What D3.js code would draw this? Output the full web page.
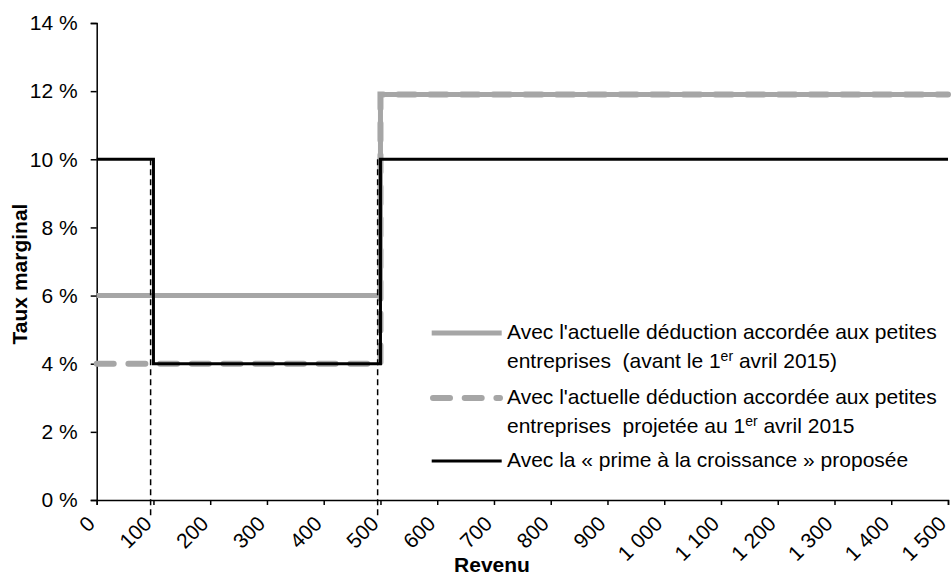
<!DOCTYPE html>
<html>
<head>
<meta charset="utf-8">
<script src="https://cdn.jsdelivr.net/npm/d3@7"></script>
<style>
  html, body { margin: 0; padding: 0; background: #fff; }
  svg text { font-family: "Liberation Sans", Arial, sans-serif; fill: #000; }
</style>
</head>
<body>
<svg id="chart" width="951" height="575"></svg>
<script>
// ---- Data ----
const revenu = [0, 100, 500, 1500];
const tauxActuel = [6, 6, 11.9, 11.9];
const tauxProjete = [4, 4, 11.9, 11.9];
const tauxPrime = [10, 4, 10, 10];
const seuils = [95, 495];
const seuilHaut = 10;
const seuilBas = -0.45;
const xTicks = [0, 100, 200, 300, 400, 500, 600, 700, 800, 900, 1000, 1100, 1200, 1300, 1400, 1500];
const yTicks = [0, 2, 4, 6, 8, 10, 12, 14];
const legendLabels = [
  ["Avec l'actuelle déduction accordée aux petites", "entreprises  (avant le 1|er| avril 2015)"],
  ["Avec l'actuelle déduction accordée aux petites", "entreprises  projetée au 1|er| avril 2015"],
  ["Avec la « prime à la croissance » proposée"]
];
const xTitle = "Revenu";
const yTitle = "Taux marginal";

// ---- Setup ----
const svg = d3.select("#chart");
const FS = 21;
const x = d3.scaleLinear().domain([0, 1500]).range([96.7, 948]);
const y = d3.scaleLinear().domain([0, 14]).range([500, 23]);
const grey = "#a6a6a6";

const fmtX = v => {
  const s = String(v);
  return s.length > 3 ? s.slice(0, s.length - 3) + " " + s.slice(-3) : s;
};

// Y axis
const yAxis = svg.append("g").attr("transform", `translate(${x(0)},0)`)
  .call(d3.axisLeft(y).tickValues(yTicks).tickSize(6).tickPadding(13).tickFormat(d => d + " %"));
yAxis.select(".domain").attr("stroke", "#000").attr("stroke-width", 1.5);
yAxis.selectAll(".tick line").attr("stroke", "#000").attr("stroke-width", 1.5);
yAxis.selectAll(".tick text").style("font-size", FS + "px").attr("fill", "#000");

// X axis
const xAxis = svg.append("g").attr("transform", `translate(0,${y(0)})`)
  .call(d3.axisBottom(x).tickValues(xTicks).tickSize(5).tickFormat(fmtX));
xAxis.select(".domain").attr("stroke", "#000").attr("stroke-width", 1.5);
xAxis.selectAll(".tick line").attr("stroke", "#000").attr("stroke-width", 1.5);
xAxis.selectAll(".tick text")
  .style("font-size", FS + "px")
  .attr("fill", "#000")
  .attr("text-anchor", "end")
  .attr("dy", null)
  .attr("y", 0)
  .attr("transform", "translate(-1,25) rotate(-45)");

// Axis titles
svg.append("text").attr("x", 492).attr("y", 572).attr("text-anchor", "middle")
  .style("font-size", FS + "px").style("font-weight", "bold").text(xTitle);
svg.append("text").attr("transform", "translate(27,274) rotate(-90)").attr("text-anchor", "middle")
  .style("font-size", FS + "px").style("font-weight", "bold").text(yTitle);

// Lines
const line = d3.line().x(d => x(d[0])).y(d => y(d[1])).curve(d3.curveStepAfter);
const pts = arr => revenu.map((r, i) => [r, arr[i]]);

svg.append("path").datum(pts(tauxActuel)).attr("d", line)
  .attr("fill", "none").attr("stroke", grey).attr("stroke-width", 5);
svg.append("path").datum(pts(tauxProjete)).attr("d", line)
  .attr("fill", "none").attr("stroke", grey).attr("stroke-width", 6)
  .attr("stroke-dasharray", "17 14.7").attr("stroke-linecap", "round");

// Dashed vertical reference lines
svg.selectAll(".seuil").data(seuils).enter().append("line")
  .attr("x1", d => x(d)).attr("x2", d => x(d))
  .attr("y1", y(seuilHaut)).attr("y2", y(seuilBas))
  .attr("stroke", "#000").attr("stroke-width", 1.5).attr("stroke-dasharray", "6 4");

svg.append("path").datum(pts(tauxPrime)).attr("d", line)
  .attr("fill", "none").attr("stroke", "#000").attr("stroke-width", 3);

// Legend
const legendStyles = [
  { stroke: grey, width: 5, dash: null, cap: "butt" },
  { stroke: grey, width: 6, dash: "17 14.7", cap: "round" },
  { stroke: "#000", width: 3, dash: null, cap: "butt" }
];
const entryY = [333, 398, 461];
const lineGap = 29;
legendLabels.forEach((lines, i) => {
  const st = legendStyles[i];
  const sx1 = i === 1 ? 433 : 431.7, sx2 = i === 1 ? 500 : 501.7;
  svg.append("line").attr("x1", sx1).attr("x2", sx2)
    .attr("y1", entryY[i]).attr("y2", entryY[i])
    .attr("stroke", st.stroke).attr("stroke-width", st.width)
    .attr("stroke-dasharray", st.dash).attr("stroke-linecap", st.cap);
  lines.forEach((txt, j) => {
    const t = svg.append("text").attr("x", 507).attr("y", entryY[i] + 6 + j * lineGap)
      .style("font-size", FS + "px").attr("xml:space", "preserve");
    const parts = txt.split("|");
    parts.forEach((p, k) => {
      if (k === 1) {
        t.append("tspan").attr("dy", -7).style("font-size", "14px").text(p);
      } else if (k === 2) {
        t.append("tspan").attr("dy", 7).text(p);
      } else {
        t.append("tspan").text(p);
      }
    });
  });
});
</script>
</body>
</html>
